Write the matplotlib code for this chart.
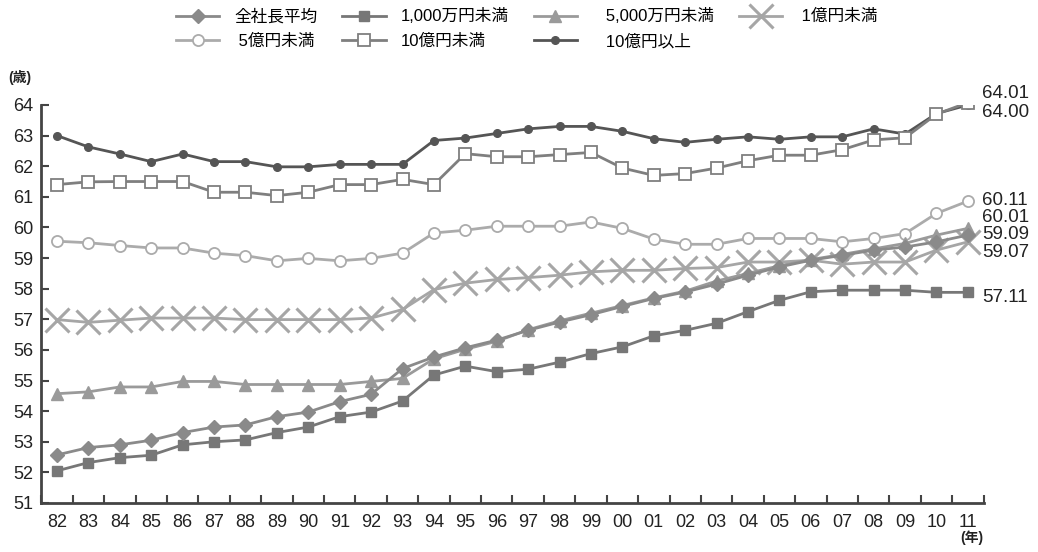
import numpy as np
import matplotlib
matplotlib.use("Agg")
import matplotlib.pyplot as plt

plt.rcParams['font.family'] = ['Liberation Sans', 'Noto Sans CJK JP']

# Data
years = ['82', '83', '84', '85', '86', '87', '88', '89', '90', '91', '92', '93', '94', '95', '96',
         '97', '98', '99', '00', '01', '02', '03', '04', '05', '06', '07', '08', '09', '10', '11']

all_avg = [52.57, 52.81, 52.90, 53.05, 53.30, 53.48, 53.55, 53.82, 53.97, 54.31, 54.55, 55.39, 55.77, 56.07, 56.32,
           56.64, 56.91, 57.15, 57.42, 57.68, 57.89, 58.15, 58.44, 58.71, 58.93, 59.09, 59.26, 59.36, 59.53, 59.75]
under_10m = [52.05, 52.32, 52.48, 52.56, 52.90, 53.00, 53.06, 53.30, 53.48, 53.82, 53.97, 54.33, 55.18, 55.47, 55.29,
             55.37, 55.60, 55.88, 56.10, 56.46, 56.64, 56.87, 57.25, 57.62, 57.90, 57.95, 57.95, 57.95, 57.88, 57.88]
under_50m = [54.57, 54.63, 54.79, 54.79, 54.97, 54.97, 54.87, 54.87, 54.87, 54.87, 54.97, 55.07, 55.71, 56.02, 56.28,
             56.66, 56.95, 57.20, 57.45, 57.70, 57.92, 58.25, 58.50, 58.75, 58.95, 59.12, 59.30, 59.48, 59.75, 59.97]
under_100m = [56.99, 56.90, 56.97, 57.04, 57.04, 57.04, 56.99, 56.99, 56.99, 56.99, 57.04, 57.32, 57.97, 58.18, 58.30,
              58.36, 58.44, 58.55, 58.60, 58.60, 58.66, 58.69, 58.87, 58.87, 58.93, 58.80, 58.87, 58.87, 59.26, 59.53]
under_500m = [59.55, 59.50, 59.41, 59.33, 59.33, 59.16, 59.08, 58.91, 58.99, 58.91, 58.99, 59.16, 59.82, 59.91, 60.04,
              60.04, 60.04, 60.18, 59.97, 59.62, 59.45, 59.45, 59.64, 59.64, 59.64, 59.53, 59.64, 59.80, 60.46, 60.86]
under_1b = [61.40, 61.49, 61.50, 61.50, 61.50, 61.15, 61.15, 61.04, 61.15, 61.40, 61.40, 61.57, 61.40, 62.41, 62.31,
            62.31, 62.38, 62.45, 61.94, 61.70, 61.76, 61.94, 62.18, 62.36, 62.36, 62.54, 62.86, 62.93, 63.70, 64.08]
over_1b = [63.00, 62.63, 62.40, 62.15, 62.40, 62.15, 62.15, 61.98, 61.98, 62.06, 62.06, 62.06, 62.84, 62.92, 63.07,
           63.22, 63.30, 63.30, 63.14, 62.90, 62.78, 62.88, 62.96, 62.88, 62.96, 62.96, 63.22, 63.05, 63.72, 64.00]

end_labels = ['64.01', '64.00', '60.11', '60.01', '59.09', '59.07', '57.11']
end_label_y = [64.39, 63.74, 60.89, 60.34, 59.78, 59.19, 57.72]

x = np.arange(len(years))

fig = plt.figure(figsize=(10.38, 5.52), dpi=100)
ax = fig.add_axes([0.0398, 0.0888, 0.9078, 0.7210])

lw = 2.0
ax.plot(x, over_1b, color='#555555', lw=lw, marker='o', ms=5.5, mfc='#555555', mec='#555555',
        label='10億円以上', zorder=3)
ax.plot(x, under_1b, color='#7f7f7f', lw=lw, marker='s', ms=8.5, mfc='white', mec='#7f7f7f', mew=1.3,
        label='10億円未満', zorder=3)
ax.plot(x, under_500m, color='#ababab', lw=lw, marker='o', ms=8, mfc='white', mec='#ababab', mew=1.3,
        label=' 5億円未満', zorder=3)
ax.plot(x, under_100m, color='#a6a6a6', lw=lw, marker='x', ms=17, mew=2.2,
        label=' 1億円未満', zorder=3)
ax.plot(x, under_50m, color='#9a9a9a', lw=lw, marker='^', ms=8.5,
        label='5,000万円未満', zorder=3)
ax.plot(x, under_10m, color='#777777', lw=lw, marker='s', ms=6.5,
        label='1,000万円未満', zorder=3)
ax.plot(x, all_avg, color='#8a8a8a', lw=lw, marker='D', ms=7,
        label='全社長平均', zorder=3)

ax.set_xlim(-0.5, len(years) - 0.5)
ax.set_ylim(51, 64)
ax.set_yticks(np.arange(51, 65, 1))
ax.set_xticks(x)
ax.set_xticklabels(years)
ax.set_xticks(np.arange(-0.5, len(years), 1), minor=True)
ax.tick_params(axis='x', which='major', length=0, labelsize=13, pad=8, colors='#222222')
ax.tick_params(axis='x', which='minor', direction='in', length=6, width=1.5, color='#444444')
ax.tick_params(axis='y', direction='in', length=6, width=1.5, labelsize=13, color='#444444',
               labelcolor='#222222', pad=6)

for s in ['top', 'right']:
    ax.spines[s].set_visible(False)
for s in ['left', 'bottom']:
    ax.spines[s].set_linewidth(2)
    ax.spines[s].set_color('#444444')

for txt, yv in zip(end_labels, end_label_y):
    ax.text(len(years) - 0.55, yv, txt, fontsize=13.5, va='center', ha='left', color='#222222',
            clip_on=False)

fig.text(0.008, 0.852, '(歳)', fontsize=10, color='#222222', fontweight='bold')
fig.text(0.925, 0.018, '(年)', fontsize=10, color='#222222', fontweight='bold')

handles, labels = ax.get_legend_handles_labels()
order = [6, 5, 4, 3, 2, 1, 0]
handles = [handles[i] for i in order]
labels = [labels[i] for i in order]
labels[2] = '   ' + labels[2]
labels[6] = '   ' + labels[6]
# row-major layout for a 4-column legend
rm = [0, 4, 1, 5, 2, 6, 3]
fig.legend([handles[i] for i in rm], [labels[i] for i in rm], ncol=4, loc='upper left',
           bbox_to_anchor=(0.155, 1.012), frameon=False, fontsize=12, handlelength=2.6,
           columnspacing=1.5, handletextpad=0.9, labelspacing=0.55)

fig.savefig('out.png', dpi=100)
